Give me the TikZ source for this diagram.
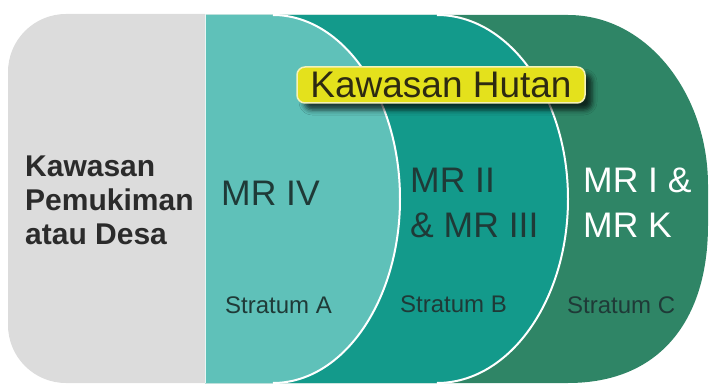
\documentclass[tikz,border=0pt]{standalone}
\usepackage{fontspec}
\setmainfont{Liberation Sans}
\usetikzlibrary{shadows.blur}

\definecolor{settle}{HTML}{DCDCDC}
\definecolor{stratA}{HTML}{5FC1B9}
\definecolor{stratB}{HTML}{139A8B}
\definecolor{stratC}{HTML}{2F8566}
\definecolor{tagyellow}{HTML}{E4E11C}
\definecolor{tagrim}{HTML}{F4F2B8}
\definecolor{inkdark}{HTML}{2B2B2B}
\definecolor{inkteal}{HTML}{1F3A37}
\definecolor{inkolive}{HTML}{2D2A12}

\tikzset{
  divider/.style={draw=white, line width=2pt},
  zonelabel/.style={font=\fontsize{30}{33}\selectfont\bfseries, text=inkdark,
    anchor=base west, inner sep=0pt},
  mrlabel/.style={font=\fontsize{35.5}{40}\selectfont, anchor=base west, inner sep=0pt},
  stratlabel/.style={font=\fontsize{24}{28}\selectfont, text=inkteal,
    anchor=base west, inner sep=0pt},
  foresttag/.style={fill=tagyellow, draw=tagrim, line width=1.5pt,
    rounded corners=8pt, minimum width=288pt, minimum height=36pt, inner sep=0pt,
    text=inkolive, font=\fontsize{37}{40}\selectfont,
    blur shadow={shadow xshift=7pt, shadow yshift=-7pt,
      shadow blur radius=5pt, shadow opacity=70}}
}

\begin{document}
\begin{tikzpicture}[x=1pt,y=-1pt]
\useasboundingbox (0,0) rectangle (710,385);

% village / settlement area, rounded on the left
\fill[settle] (205,14) [rounded corners=58pt] -- (8,14) -- (8,383)
  [sharp corners] -- (205,383) -- cycle;

% stratum C (outermost forest zone)
\fill[stratC] (205,15) -- (568,15)
  .. controls (648,15) and (708,95) .. (708,185) -- (708,225)
  .. controls (708,320) and (660,383) .. (568,383) -- (205,383) -- cycle;

% stratum B
\fill[stratB] (205,15) -- (437,15)
  arc[start angle=-90, end angle=90, x radius=131, y radius=184]
  -- (205,383) -- cycle;
\draw[divider] (437,15)
  arc[start angle=-90, end angle=90, x radius=131, y radius=184];

% stratum A
\fill[stratA] (205,15) -- (273,15)
  arc[start angle=-90, end angle=90, x radius=127, y radius=184]
  -- (205,383) -- cycle;
\draw[divider] (273,15)
  arc[start angle=-90, end angle=90, x radius=127, y radius=184];

% boundary between village and forest
\draw[divider, line width=1.5pt, draw=white!85!stratA] (205.5,14) -- (205.5,383);

% forest label
\node[foresttag] (tag) at (441,85) {Kawasan Hutan};

% village label
\node[zonelabel] (v1) at (25,177) {Kawasan};
\node[zonelabel] (v2) at (25,211) {Pemukiman};
\node[zonelabel] (v3) at (25,244) {atau Desa};

% management zones
\node[mrlabel, text=inkteal] (mr4) at (221,205) {MR IV};
\node[mrlabel, text=inkteal] (mr2) at (410,193) {MR II};
\node[mrlabel, text=inkteal] (mr3) at (410,237) {\& MR III};
\node[mrlabel, text=white] (mr1) at (583,193) {MR I \&};
\node[mrlabel, text=white] (mrk) at (583,237) {MR K};

% strata
\node[stratlabel] (sa) at (225,313) {Stratum A};
\node[stratlabel] (sb) at (400,312) {Stratum B};
\node[stratlabel] (sc) at (567,313) {Stratum C};
\end{tikzpicture}
\end{document}
